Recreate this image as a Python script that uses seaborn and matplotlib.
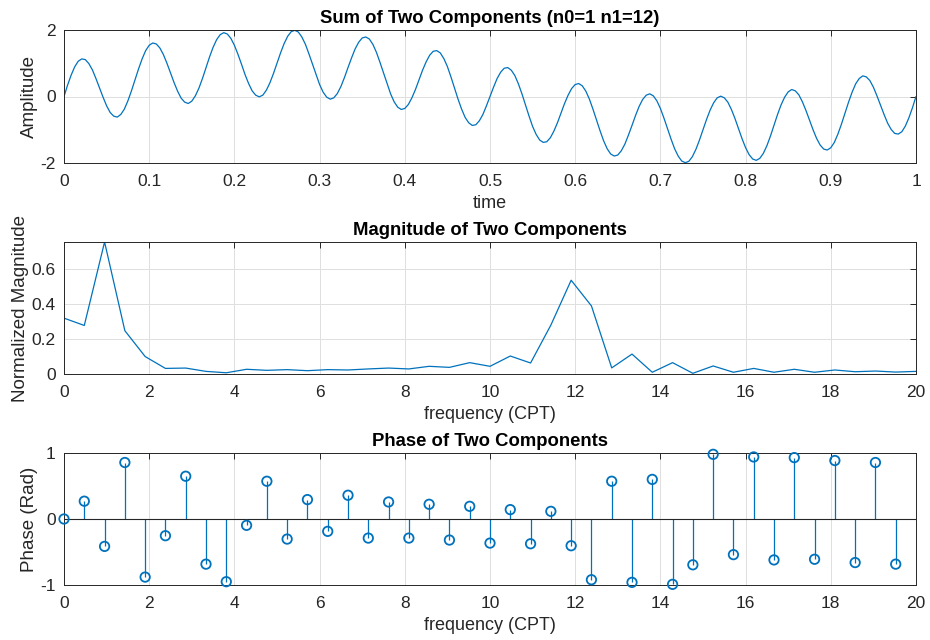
import numpy as np
import pandas as pd
import matplotlib
matplotlib.use("Agg")
import matplotlib.pyplot as plt
import seaborn as sns

# ---------------- data ----------------
# time samples (uniform grid, 241 samples over 1 s)
time = np.arange(241) / 240.0
amplitude = [
    0, .34, .64, .89, 1.06, 1.13, 1.11, .99, .80, .54, .26, -.02, -.28, -.48, -.59, -.62, -.54, -.38, -.13, .17,
    .50, .83, 1.13, 1.38, 1.54, 1.61, 1.58, 1.46, 1.26, 1.00, .71, .42, .16, -.05, -.17, -.21, -.14, .02, .25, .54,
    .87, 1.19, 1.48, 1.71, 1.86, 1.92, 1.88, 1.75, 1.54, 1.27, .97, .66, .39, .17, .04, -.01, .04, .19, .41, .69,
    1.00, 1.31, 1.59, 1.81, 1.95, 1.99, 1.94, 1.79, 1.57, 1.28, .97, .65, .36, .13, -.02, -.08, -.04, .09, .30, .57,
    .87, 1.16, 1.43, 1.63, 1.76, 1.79, 1.73, 1.57, 1.33, 1.03, .71, .38, .08, -.16, -.32, -.39, -.36, -.24, -.04, .21,
    .50, .79, 1.04, 1.24, 1.36, 1.38, 1.31, 1.14, .90, .59, .26, -.08, -.38, -.63, -.79, -.87, -.85, -.73, -.54, -.28,
    0, .28, .54, .73, .85, .87, .79, .63, .38, .08, -.26, -.59, -.90, -1.14, -1.31, -1.38, -1.36, -1.24, -1.04, -.79,
    -.50, -.21, .04, .24, .36, .39, .32, .16, -.08, -.38, -.71, -1.03, -1.33, -1.57, -1.73, -1.79, -1.76, -1.63, -1.43, -1.16,
    -.87, -.57, -.30, -.09, .04, .08, .02, -.13, -.36, -.65, -.97, -1.28, -1.57, -1.79, -1.94, -1.99, -1.95, -1.81, -1.59, -1.31,
    -1.00, -.69, -.41, -.19, -.04, .01, -.04, -.17, -.39, -.66, -.97, -1.27, -1.54, -1.75, -1.88, -1.92, -1.86, -1.71, -1.48, -1.19,
    -.87, -.54, -.25, -.02, .14, .21, .17, .05, -.16, -.42, -.71, -1.00, -1.26, -1.46, -1.58, -1.61, -1.54, -1.38, -1.13, -.83,
    -.50, -.17, .13, .38, .54, .62, .59, .48, .28, .02, -.26, -.54, -.80, -.99, -1.11, -1.13, -1.06, -.89, -.64, -.34,
    0,
]

# frequency bins (CPT)
freq_mag = np.arange(43) * 20.0 / 42.0
magnitude = [
    0.320, 0.278, 0.756, 0.248, 0.100, 0.032, 0.034, 0.015, 0.007, 0.027,
    0.021, 0.025, 0.019, 0.025, 0.023, 0.029, 0.034, 0.029, 0.044, 0.038,
    0.065, 0.044, 0.103, 0.063, 0.280, 0.537, 0.390, 0.035, 0.114, 0.010,
    0.065, 0.004, 0.046, 0.010, 0.032, 0.010, 0.027, 0.010, 0.023, 0.013,
    0.017, 0.011, 0.015,
]

freq_phase = np.arange(42) * 20.0 / 42.0
phase = [
    0.0, 0.27, -0.415, 0.856, -0.88, -0.253, 0.648, -0.684, -0.95, -0.096,
    0.572, -0.304, 0.294, -0.187, 0.36, -0.289, 0.258, -0.289, 0.223, -0.319,
    0.192, -0.365, 0.142, -0.375, 0.116, -0.405, -0.92, 0.572, -0.96, 0.60,
    -0.99, -0.694, 0.98, -0.54, 0.94, -0.62, 0.93, -0.61, 0.886, -0.66,
    0.856, -0.684,
]

time_ticks = [0, 0.1, 0.2, 0.3, 0.4, 0.5, 0.6, 0.7, 0.8, 0.9, 1]
time_tick_labels = ["0", "0.1", "0.2", "0.3", "0.4", "0.5", "0.6", "0.7", "0.8", "0.9", "1"]
freq_ticks = [0, 2, 4, 6, 8, 10, 12, 14, 16, 18, 20]

# ---------------- style ----------------
sns.set_theme(style="white")
plt.rcParams["font.family"] = ["Liberation Sans", "DejaVu Sans"]
plt.rcParams["axes.unicode_minus"] = False

BLUE = "#0072BD"
AX = "#262626"
GRID = "#DFDFDF"

fig = plt.figure(figsize=(9.3, 6.4), dpi=100)
W, H = 930.0, 640.0


def make_axes(left, top, right, bottom):
    return fig.add_axes([left / W, 1 - bottom / H, (right - left) / W, (bottom - top) / H])


def style_axes(ax):
    for s in ax.spines.values():
        s.set_color(AX)
        s.set_linewidth(0.7)
        s.set_visible(True)
    ax.tick_params(direction="in", length=4, width=0.7, colors=AX,
                   labelsize=12.5, top=True, right=True)
    ax.tick_params(axis="x", pad=8)
    ax.tick_params(axis="y", pad=6)
    ax.grid(True, color=GRID, linewidth=0.7)
    ax.set_axisbelow(True)


def label_axes(ax, xlabel, ylabel, title):
    ax.set_xlabel(xlabel, fontsize=13, color=AX, labelpad=4)
    ax.set_ylabel(ylabel, fontsize=13.5, color=AX, labelpad=1.5)
    ax.set_title(title, fontsize=13.3, fontweight="bold", color="black", pad=5)


ax1 = make_axes(64, 30, 916, 163)
ax2 = make_axes(64, 242, 916, 374)
ax3 = make_axes(64, 453, 916, 585)

# --- top: time signal ---
df1 = pd.DataFrame({"time": time, "amp": amplitude})
sns.lineplot(data=df1, x="time", y="amp", ax=ax1, color=BLUE, linewidth=0.9)
ax1.set_xlim(0, 1)
ax1.set_ylim(-2, 2)
ax1.set_xticks(time_ticks)
ax1.set_xticklabels(time_tick_labels)
ax1.set_yticks([-2, 0, 2])
style_axes(ax1)
label_axes(ax1, "time", "Amplitude", "Sum of Two Components (n0=1 n1=12)")

# --- middle: magnitude ---
df2 = pd.DataFrame({"f": freq_mag, "mag": magnitude})
sns.lineplot(data=df2, x="f", y="mag", ax=ax2, color=BLUE, linewidth=0.9)
ax2.set_xlim(0, 20)
ax2.set_ylim(0, max(magnitude))
ax2.set_xticks(freq_ticks)
ax2.set_yticks([0, 0.2, 0.4, 0.6])
ax2.set_yticklabels(["0", "0.2", "0.4", "0.6"])
style_axes(ax2)
label_axes(ax2, "frequency (CPT)", "Normalized Magnitude", "Magnitude of Two Components")

# --- bottom: phase stem ---
ax3.vlines(freq_phase, 0, phase, color=BLUE, linewidth=0.9, zorder=2)
ax3.axhline(0, color=AX, linewidth=0.8, zorder=2)
df3 = pd.DataFrame({"f": freq_phase, "ph": phase})
sns.scatterplot(data=df3, x="f", y="ph", ax=ax3, marker="o", s=46,
                facecolors="none", edgecolor=BLUE, linewidth=1.3, zorder=3,
                clip_on=False)
ax3.set_xlim(0, 20)
ax3.set_ylim(-1, 1)
ax3.set_xticks(freq_ticks)
ax3.set_yticks([-1, 0, 1])
style_axes(ax3)
label_axes(ax3, "frequency (CPT)", "Phase (Rad)", "Phase of Two Components")

fig.savefig("out.png", dpi=100)
